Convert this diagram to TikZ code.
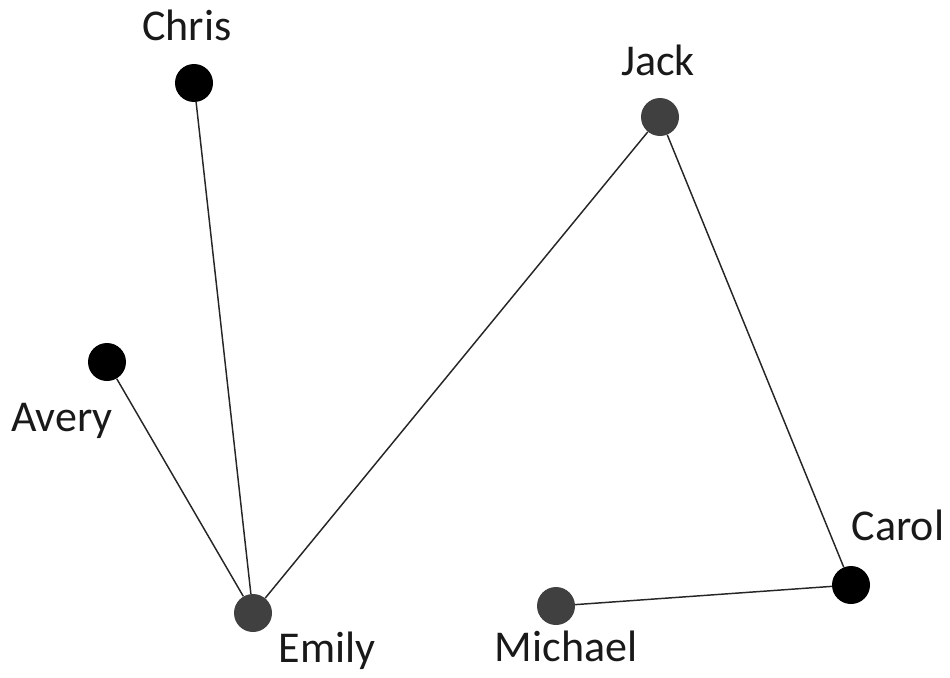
\documentclass[tikz,border=0pt]{standalone}
\usepackage{fontspec}
\setmainfont{Carlito}
\begin{document}
\begin{tikzpicture}[x=0.75pt,y=-0.75pt,
  dotblack/.style={circle,fill=black,draw=none,minimum size=28.5pt,inner sep=0pt},
  dotgray/.style={circle,fill=black!75,draw=none,minimum size=28.5pt,inner sep=0pt},
  lbl/.style={anchor=base,inner sep=0pt,font=\fontsize{33}{40}\selectfont,text=black!90},
  edge/.style={draw=black!85,line width=1.1pt}]
\useasboundingbox (0,0) rectangle (950,678);
\node[dotblack] (chris) at (194,83) {};
\node[dotgray] (jack) at (660,117) {};
\node[dotblack] (avery) at (107,362) {};
\node[dotgray] (emily) at (253,613) {};
\node[dotgray] (michael) at (556,606) {};
\node[dotblack] (carol) at (851,585) {};
\node[lbl] (chrisL) at (187,40) {Chris};
\node[lbl] (jackL) at (658,75) {Jack};
\node[lbl] (averyL) at (62,431) {Avery};
\node[lbl] (emilyL) at (327,662) {Emily};
\node[lbl] (michaelL) at (566,661) {Michael};
\node[lbl] (carolL) at (898,540) {Carol};
\begin{scope}[on background layer/.style={}]
\draw[edge] (chris) -- (emily);
\draw[edge] (avery) -- (emily);
\draw[edge] (emily) -- (jack);
\draw[edge] (jack) -- (carol);
\draw[edge] (michael) -- (carol);
\end{scope}
\end{tikzpicture}
\end{document}
